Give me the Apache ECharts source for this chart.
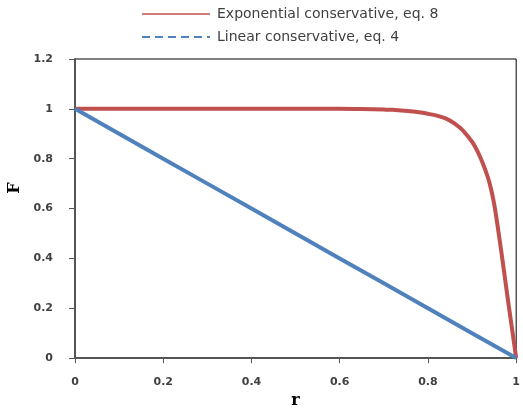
<!DOCTYPE html>
<html>
<head>
<meta charset="utf-8">
<script src="https://cdn.jsdelivr.net/npm/echarts@6/dist/echarts.min.js"></script>
<style>
    html, body { margin: 0; padding: 0; background: #fff; }
    #chart { width: 523px; height: 414px; }
</style>
</head>
<body>
<div id="chart"></div>
<script>
// values
var expR = [0, 0.1, 0.2, 0.3, 0.4, 0.5, 0.6, 0.65,
    0.7, 0.72, 0.74, 0.76, 0.78, 0.8, 0.82, 0.84, 0.86, 0.88,
    0.9, 0.91, 0.92, 0.93, 0.94, 0.95, 0.96, 0.97, 0.98, 0.99, 1];
var expF = [1, 1, 1, 1, 1, 1, 1, 0.999,
    0.997, 0.996, 0.993, 0.99, 0.986, 0.98, 0.973, 0.962, 0.942, 0.912,
    0.868, 0.838, 0.80, 0.755, 0.70, 0.62, 0.505, 0.38, 0.25, 0.125, 0];

var linR = [0, 0.1, 0.2, 0.3, 0.4, 0.5, 0.6, 0.7, 0.8, 0.9, 1];
var linF = [1, 0.9, 0.8, 0.7, 0.6, 0.5, 0.4, 0.3, 0.2, 0.1, 0];

var seriesNames = ['Exponential conservative, eq. 8', 'Linear conservative, eq. 4'];
var colors = ['#C0504D', '#4F81BD'];

function pairs(xs, ys) {
    return xs.map(function (x, i) { return [x, ys[i]]; });
}

var axisFont = { fontFamily: 'DejaVu Sans', fontSize: 11, fontWeight: 'bold', color: '#404040' };
// hide the symbol dot in the legend icons
var noDot = { opacity: 0 };

var chart = echarts.init(document.getElementById('chart'));
chart.setOption({
    animation: false,
    grid: {
        left: 75, right: 1, top: 59, bottom: 45,
        show: true, borderColor: '#000', borderWidth: 1
    },
    legend: {
        orient: 'vertical',
        left: 141, top: 7, padding: 0,
        itemWidth: 68, itemHeight: 14, itemGap: 9,
        textStyle: { fontFamily: 'DejaVu Sans', fontSize: 14, color: '#404040', padding: [0, 0, 0, 2] },
        data: [
            { name: seriesNames[0], itemStyle: noDot, lineStyle: { width: 1.5 } },
            { name: seriesNames[1], itemStyle: noDot, lineStyle: { width: 2, type: [8, 5] } }
        ]
    },
    xAxis: {
        type: 'value', min: 0, max: 1, interval: 0.2,
        name: 'r', nameLocation: 'middle', nameGap: 33,
        nameTextStyle: { fontFamily: 'DejaVu Serif', fontSize: 16, fontWeight: 'bold', color: '#000' },
        axisLine: { lineStyle: { color: '#555', width: 2 } },
        axisTick: { show: true, length: 5, lineStyle: { color: '#555' } },
        axisLabel: Object.assign({ margin: 19 }, axisFont),
        splitLine: { show: false }
    },
    yAxis: {
        type: 'value', min: 0, max: 1.2, interval: 0.2,
        axisLine: { show: true, lineStyle: { color: '#555', width: 2 } },
        axisTick: { show: true, length: 6, lineStyle: { color: '#555' } },
        axisLabel: Object.assign({ margin: 22 }, axisFont),
        splitLine: { show: false }
    },
    graphic: [{
        type: 'text', x: 15, y: 188, rotation: Math.PI / 2,
        style: {
            text: 'F', fontFamily: 'DejaVu Serif', fontSize: 16, fontWeight: 'bold',
            fill: '#000', align: 'center', verticalAlign: 'middle'
        }
    }],
    series: [
        {
            name: seriesNames[0], type: 'line', symbol: 'none', smooth: 0.3,
            data: pairs(expR, expF),
            lineStyle: { color: colors[0], width: 4, join: 'round' },
            itemStyle: { color: colors[0] }
        },
        {
            name: seriesNames[1], type: 'line', symbol: 'none',
            data: pairs(linR, linF),
            lineStyle: { color: colors[1], width: 4 },
            itemStyle: { color: colors[1] }
        }
    ]
});
</script>
</body>
</html>
